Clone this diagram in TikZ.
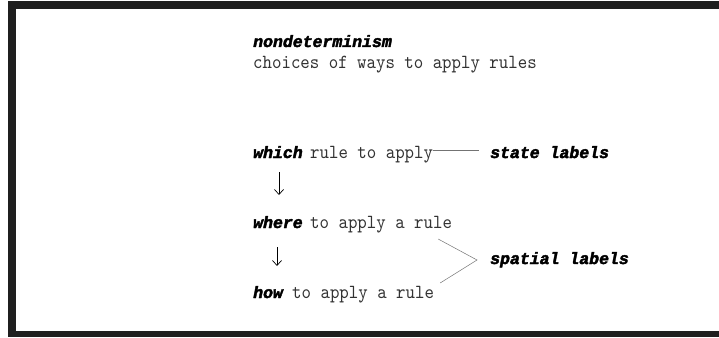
\documentclass[tikz,border=0pt]{standalone}
\usepackage{fontspec}
\usetikzlibrary{arrows.meta}
\newfontfamily\mybold[FakeBold=2.5]{Liberation Mono Bold Italic}
\newfontfamily\mymono[Extension=.otf, FakeStretch=0.9]{lmmono10-regular}
\tikzset{
  txt/.style={anchor=base west, inner sep=0pt, font=\mymono\fontsize{20}{22}\selectfont, text=black!80},
  bld/.style={anchor=base west, inner sep=0pt, font=\mybold\fontsize{16.5}{20}\selectfont},
  conn/.style={draw=black!55, line width=0.5pt},
  arr/.style={draw=black, line width=0.7pt, -{Straight Barb[length=5pt,width=9pt]}},
  framefill/.style={fill=black!88}
}
\begin{document}
\begin{tikzpicture}[x=1pt,y=-1pt]
\useasboundingbox (0,0) rectangle (719,337);
% frame
\fill[framefill] (8,1) rectangle (719,9);
\fill[framefill] (8,1) rectangle (16,337);
\fill[framefill] (8,331) rectangle (719,337);
% texts
\node[bld] (nd) at (253,47) {nondeterminism};
\node[txt] (ch) at (253,68) {choices of ways to apply rules};
\node[bld] (which) at (253,158) {which};
\node[txt] (whicht) at (310,158) {rule to apply};
\node[bld] (state) at (490,158) {state labels};
\node[bld] (where) at (253,228) {where};
\node[txt] (wheret) at (310,228) {to apply a rule};
\node[bld] (how) at (253,298) {how};
\node[txt] (howt) at (292,298) {to apply a rule};
\node[bld] (spatial) at (490,264) {spatial labels};
% connectors
\draw[conn] ([yshift=8pt]whicht.base east) -- ([xshift=-11pt,yshift=8pt]state.base west);
\draw[arr] ([xshift=26pt,yshift=-14pt]which.base west) -- ([xshift=26pt,yshift=33pt]where.base west);
\draw[arr] ([xshift=24pt,yshift=-19pt]where.base west) -- ([xshift=24pt,yshift=32pt]how.base west);
\coordinate (tip) at ([xshift=-13pt,yshift=4pt]spatial.base west);
\draw[conn] ([xshift=-14pt,yshift=-11pt]wheret.base east) -- (tip) -- ([xshift=6pt,yshift=15pt]howt.base east);
\end{tikzpicture}
\end{document}
